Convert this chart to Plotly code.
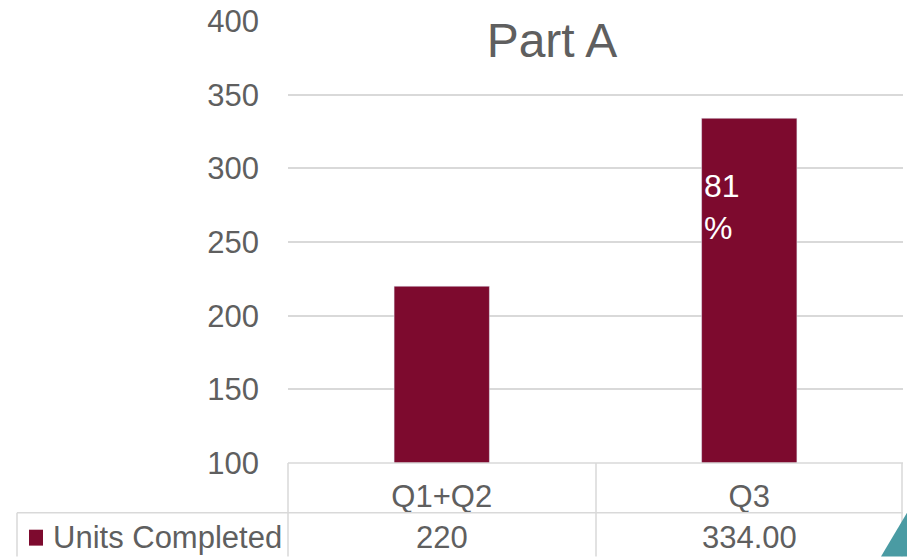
import plotly.graph_objects as go

categories = ["Q1+Q2", "Q3"]
units_completed = [220, 334]
value_labels = ["220", "334.00"]
series_name = "Units Completed"
bar_note = "81<br>%"
y_ticks = [100, 150, 200, 250, 300, 350, 400]

BAR = "#7D0A2E"
GRID = "#D9D9D9"
TXT = "#5F5F5F"
FONT = "Liberation Sans, Arial, sans-serif"

W, H = 907, 557
L, R, T, B = 288, 4, 19, 94
pw, ph = W - L - R, H - T - B

def px(xp):
    return (xp - L) / pw

def py(yp):
    return (H - B - yp) / ph

fig = go.Figure()
fig.add_trace(go.Bar(x=categories, y=units_completed, marker_color=BAR,
                     width=0.31, name=series_name, showlegend=False))

fig.update_layout(
    width=W, height=H,
    margin=dict(l=L, r=R, t=T, b=B, pad=0),
    paper_bgcolor="white", plot_bgcolor="white",
    font=dict(family=FONT, color=TXT, size=31),
    title=dict(text="Part A", xref="paper", x=px(552), xanchor="center",
               yref="container", y=1 - 40 / H, yanchor="middle",
               font=dict(size=48, color=TXT, family=FONT)),
    xaxis=dict(showticklabels=True, ticks="", showline=False, showgrid=False,
               tickfont=dict(size=31, color=TXT), ticklabelstandoff=12),
    yaxis=dict(range=[100, 400], tickvals=y_ticks, showgrid=True, gridcolor=GRID,
               gridwidth=1.5, zeroline=False, showline=False, ticks="",
               tickfont=dict(size=31, color=TXT), ticklabelstandoff=28),
    bargap=0.69,
)

line = dict(color=GRID, width=1.5)
shapes = [
    (288, 463, 903, 463),
    (17, 513, 903, 513),
    (288, 463, 288, 557),
    (596, 463, 596, 557),
    (902, 463, 902, 557),
    (17, 513, 17, 557),
]
for x0, y0, x1, y1 in shapes:
    fig.add_shape(type="line", xref="paper", yref="paper",
                  x0=px(x0), y0=py(y0), x1=px(x1), y1=py(y1), line=line)

# legend key square
fig.add_shape(type="rect", xref="paper", yref="paper",
              x0=px(29), x1=px(43), y0=py(546), y1=py(530),
              fillcolor=BAR, line=dict(width=0))
fig.add_annotation(text=series_name, xref="paper", yref="paper",
                   x=px(51), y=py(538), xanchor="left", yanchor="middle",
                   showarrow=False, font=dict(size=31, color=TXT))
for c, t in zip(categories, value_labels):
    fig.add_annotation(text=t, x=c, xref="x", yref="paper", y=py(538),
                       yanchor="middle", showarrow=False,
                       font=dict(size=31, color=TXT))

# note inside Q3 bar
fig.add_annotation(text=bar_note, x=categories[1], xref="x", y=py(206), yref="paper",
                   xanchor="left", yanchor="middle", xshift=-47, align="left",
                   showarrow=False, font=dict(size=32, color="white"))

# decorative teal corner triangle
fig.add_shape(type="path", xref="paper", yref="paper",
              path=f"M {px(881)} {py(557)} L {px(907)} {py(513)} L {px(907)} {py(557)} Z",
              fillcolor="#4A9BA3", line=dict(width=0))

fig.write_html("out.html")
